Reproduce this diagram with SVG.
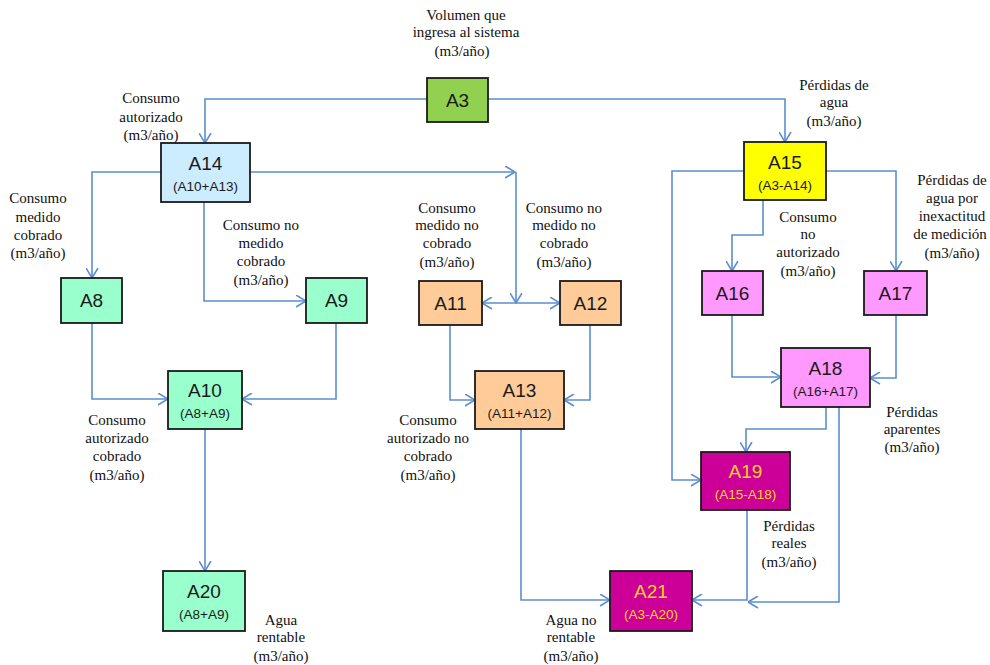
<svg xmlns="http://www.w3.org/2000/svg" width="990" height="665" viewBox="0 0 990 665">
<style>
.box{stroke:#1a1a1a;stroke-width:1.8}
.t{font-family:"Liberation Sans",Arial,sans-serif;font-size:19px;fill:#1a1a1a;text-anchor:middle}
.s{font-family:"Liberation Sans",Arial,sans-serif;font-size:13.5px;fill:#1a1a1a;text-anchor:middle}
.y{fill:#FFD21F}
.lbl{font-family:"Liberation Serif","Times New Roman",serif;font-size:15px;fill:#111;text-anchor:middle}
.c{fill:none;stroke:#5B8ED0;stroke-width:1.6;marker-end:url(#ar)}
</style>
<defs>
<marker id="ar" viewBox="0 0 11 13" refX="10.5" refY="6.5" markerWidth="11" markerHeight="13" markerUnits="userSpaceOnUse" orient="auto">
<path d="M0.5,0.5 L10.5,6.5 L0.5,12.5" fill="none" stroke="#5B8ED0" stroke-width="1.6"/>
</marker>
</defs>
<rect width="990" height="665" fill="#fff"/>
<g id="connectors">
<path class="c" d="M427,99 H205 V143"/>
<path class="c" d="M488,99 H785 V142"/>
<path class="c" d="M161,172 H92 V278"/>
<path class="c" d="M250,172 H515"/>
<path class="c" d="M516,172 V303"/>
<path class="c" d="M516,303 H482"/>
<path class="c" d="M516,303 H560"/>
<path class="c" d="M204,202 V301 H306"/>
<path class="c" d="M92,323 V399 H168"/>
<path class="c" d="M336,323 V399 H242"/>
<path class="c" d="M205,429 V571"/>
<path class="c" d="M450,325 V400 H475"/>
<path class="c" d="M590,325 V400 H564"/>
<path class="c" d="M521,429 V600 H610"/>
<path class="c" d="M744,171 H672 V480 H701"/>
<path class="c" d="M826,171 H896 V271"/>
<path class="c" d="M763,200 V235 H732 V271"/>
<path class="c" d="M732,315 V377 H781"/>
<path class="c" d="M896,315 V378 H870"/>
<path class="c" d="M826,407 V429 H746 V452"/>
<path class="c" d="M839,407 V602 H748"/>
<path class="c" d="M747,510 V600 H692"/>
</g>
<g id="A3"><rect class="box" x="427" y="78" width="61" height="44" fill="#92D050"/><text class="t" x="457.5" y="107">A3</text></g>
<g id="A14"><rect class="box" x="161" y="143" width="89" height="59" fill="#CCECFF"/><text class="t" x="205.5" y="170">A14</text><text class="s" x="205.5" y="191">(A10+A13)</text></g>
<g id="A15"><rect class="box" x="744" y="142" width="82" height="58" fill="#FFFF00"/><text class="t" x="785" y="169">A15</text><text class="s" x="785" y="190">(A3-A14)</text></g>
<g id="A8"><rect class="box" x="61" y="278" width="61" height="45" fill="#99FFCC"/><text class="t" x="91.5" y="307">A8</text></g>
<g id="A9"><rect class="box" x="306" y="278" width="61" height="45" fill="#99FFCC"/><text class="t" x="336.5" y="307">A9</text></g>
<g id="A10"><rect class="box" x="168" y="371" width="74" height="58" fill="#99FFCC"/><text class="t" x="205" y="397">A10</text><text class="s" x="205" y="418">(A8+A9)</text></g>
<g id="A20"><rect class="box" x="163" y="571" width="82" height="60" fill="#99FFCC"/><text class="t" x="204" y="598">A20</text><text class="s" x="204" y="619">(A8+A9)</text></g>
<g id="A11"><rect class="box" x="419" y="281" width="63" height="44" fill="#FFCC99"/><text class="t" x="450.5" y="310">A11</text></g>
<g id="A12"><rect class="box" x="560" y="281" width="61" height="44" fill="#FFCC99"/><text class="t" x="590.5" y="310">A12</text></g>
<g id="A13"><rect class="box" x="475" y="371" width="89" height="58" fill="#FFCC99"/><text class="t" x="519.5" y="397">A13</text><text class="s" x="519.5" y="418">(A11+A12)</text></g>
<g id="A16"><rect class="box" x="702" y="271" width="61" height="44" fill="#FF99FF"/><text class="t" x="732.5" y="300">A16</text></g>
<g id="A17"><rect class="box" x="864" y="271" width="63" height="44" fill="#FF99FF"/><text class="t" x="895.5" y="300">A17</text></g>
<g id="A18"><rect class="box" x="781" y="348" width="89" height="59" fill="#FF99FF"/><text class="t" x="825.5" y="375">A18</text><text class="s" x="825.5" y="396">(A16+A17)</text></g>
<g id="A19"><rect class="box" x="701" y="452" width="89" height="58" fill="#CC0099"/><text class="t y" x="745.5" y="478">A19</text><text class="s y" x="745.5" y="499">(A15-A18)</text></g>
<g id="A21"><rect class="box" x="610" y="571" width="82" height="60" fill="#CC0099"/><text class="t y" x="651" y="598">A21</text><text class="s y" x="651" y="619">(A3-A20)</text></g>
<g id="labels">
<text class="lbl" x="466" y="20">Volumen que</text><text class="lbl" x="466" y="37">ingresa al sistema</text><text class="lbl" x="462" y="56">(m3/año)</text>
<text class="lbl" x="151" y="103">Consumo</text><text class="lbl" x="151" y="122">autorizado</text><text class="lbl" x="151" y="140">(m3/año)</text>
<text class="lbl" x="834" y="90">Pérdidas de</text><text class="lbl" x="834" y="107">agua</text><text class="lbl" x="834" y="126">(m3/año)</text>
<text class="lbl" x="38" y="203">Consumo</text><text class="lbl" x="38" y="222">medido</text><text class="lbl" x="38" y="240">cobrado</text><text class="lbl" x="38" y="258">(m3/año)</text>
<text class="lbl" x="261" y="230">Consumo no</text><text class="lbl" x="261" y="248">medido</text><text class="lbl" x="261" y="266">cobrado</text><text class="lbl" x="261" y="285">(m3/año)</text>
<text class="lbl" x="447" y="213">Consumo</text><text class="lbl" x="447" y="230">medido no</text><text class="lbl" x="447" y="248">cobrado</text><text class="lbl" x="447" y="267">(m3/año)</text>
<text class="lbl" x="564" y="213">Consumo no</text><text class="lbl" x="564" y="230">medido no</text><text class="lbl" x="564" y="248">cobrado</text><text class="lbl" x="564" y="267">(m3/año)</text>
<text class="lbl" x="808" y="222">Consumo</text><text class="lbl" x="808" y="239">no</text><text class="lbl" x="808" y="257">autorizado</text><text class="lbl" x="808" y="276">(m3/año)</text>
<text class="lbl" x="952" y="185">Pérdidas de</text><text class="lbl" x="952" y="203">agua por</text><text class="lbl" x="952" y="221">inexactitud</text><text class="lbl" x="950" y="239">de medición</text><text class="lbl" x="952" y="258">(m3/año)</text>
<text class="lbl" x="117" y="425">Consumo</text><text class="lbl" x="117" y="443">autorizado</text><text class="lbl" x="117" y="461">cobrado</text><text class="lbl" x="117" y="480">(m3/año)</text>
<text class="lbl" x="428" y="425">Consumo</text><text class="lbl" x="428" y="443">autorizado no</text><text class="lbl" x="428" y="461">cobrado</text><text class="lbl" x="428" y="480">(m3/año)</text>
<text class="lbl" x="912" y="417">Pérdidas</text><text class="lbl" x="912" y="434">aparentes</text><text class="lbl" x="912" y="452">(m3/año)</text>
<text class="lbl" x="789" y="531">Pérdidas</text><text class="lbl" x="789" y="548">reales</text><text class="lbl" x="789" y="567">(m3/año)</text>
<text class="lbl" x="571" y="625">Agua no</text><text class="lbl" x="571" y="642">rentable</text><text class="lbl" x="571" y="661">(m3/año)</text>
<text class="lbl" x="281" y="625">Agua</text><text class="lbl" x="281" y="642">rentable</text><text class="lbl" x="281" y="661">(m3/año)</text>
</g>
</svg>
